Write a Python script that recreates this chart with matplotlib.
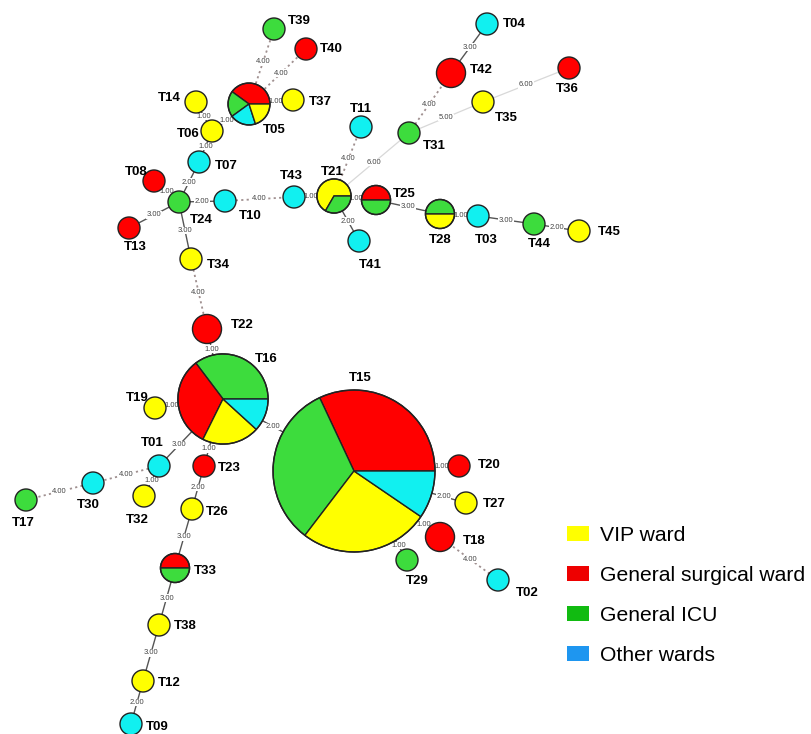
import matplotlib.pyplot as plt
from matplotlib.patches import Wedge, Circle, Patch
import numpy as np

plt.rcParams['font.family'] = ['Liberation Sans', 'DejaVu Sans']

# ward names and colours (V = VIP, S = surgical, I = ICU, O = other)
ward_names = {"V": "VIP ward", "S": "General surgical ward", "I": "General ICU", "O": "Other wards"}
node_colors = {"V": "#ffff00", "S": "#ff0000", "I": "#3ddc3d", "O": "#11f0f0"}
legend_colors = {"V": "#ffff00", "S": "#ee0000", "I": "#11bb11", "O": "#1e96f0"}

# isolates of each type per ward, slices in drawing order
composition = {
    "T15": [("S", 47), ("I", 48), ("V", 38), ("O", 14)],
    "T16": [("I", 12), ("S", 11), ("V", 7), ("O", 4)],
    "T05": [("S", 2), ("I", 1), ("O", 1), ("V", 1)],
    "T21": [("V", 2), ("I", 1)],
    "T25": [("S", 1), ("I", 1)],
    "T28": [("I", 1), ("V", 1)],
    "T33": [("S", 1), ("I", 1)],
    "T42": [("S", 2)], "T22": [("S", 2)], "T18": [("S", 2)],
    "T39": [("I", 1)], "T40": [("S", 1)], "T37": [("V", 1)], "T14": [("V", 1)],
    "T06": [("V", 1)], "T07": [("O", 1)], "T08": [("S", 1)], "T24": [("I", 1)],
    "T10": [("O", 1)], "T13": [("S", 1)], "T34": [("V", 1)], "T43": [("O", 1)],
    "T11": [("O", 1)], "T41": [("O", 1)], "T03": [("O", 1)], "T44": [("I", 1)],
    "T45": [("V", 1)], "T31": [("I", 1)], "T04": [("O", 1)], "T35": [("V", 1)],
    "T36": [("S", 1)], "T19": [("V", 1)], "T01": [("O", 1)], "T23": [("S", 1)],
    "T30": [("O", 1)], "T17": [("I", 1)], "T32": [("V", 1)], "T26": [("V", 1)],
    "T20": [("S", 1)], "T27": [("V", 1)], "T29": [("I", 1)], "T02": [("O", 1)],
    "T38": [("V", 1)], "T12": [("V", 1)], "T09": [("O", 1)],
}

# minimum spanning tree links and allelic distances
edges = [
    ("T05", "T39", 4), ("T05", "T40", 4), ("T05", "T37", 1), ("T05", "T06", 1),
    ("T14", "T06", 1), ("T06", "T07", 1), ("T07", "T24", 2), ("T08", "T24", 1),
    ("T13", "T24", 3), ("T24", "T10", 2), ("T24", "T34", 3), ("T10", "T43", 4),
    ("T43", "T21", 1), ("T21", "T11", 4), ("T21", "T31", 6), ("T21", "T41", 2),
    ("T21", "T25", 1), ("T25", "T28", 3), ("T28", "T03", 1), ("T03", "T44", 3),
    ("T44", "T45", 2), ("T31", "T42", 4), ("T42", "T04", 3), ("T31", "T35", 5),
    ("T35", "T36", 6), ("T34", "T22", 4), ("T22", "T16", 1), ("T16", "T19", 1),
    ("T16", "T01", 3), ("T16", "T23", 1), ("T16", "T15", 2), ("T01", "T30", 4),
    ("T01", "T32", 1), ("T30", "T17", 4), ("T23", "T26", 2), ("T26", "T33", 3),
    ("T33", "T38", 3), ("T38", "T12", 3), ("T12", "T09", 2), ("T15", "T20", 1),
    ("T15", "T27", 2), ("T15", "T18", 1), ("T15", "T29", 1), ("T18", "T02", 4),
]

# layout of the tree (pixel positions) and label offsets
pos = {
    "T39": (274, 29), "T40": (306, 49), "T37": (293, 100), "T05": (249, 104),
    "T14": (196, 102), "T06": (212, 131), "T07": (199, 162), "T08": (154, 181),
    "T24": (179, 202), "T10": (225, 201), "T13": (129, 228), "T34": (191, 259),
    "T43": (294, 197), "T21": (334, 196), "T11": (361, 127), "T41": (359, 241),
    "T25": (376, 200), "T28": (440, 214), "T03": (478, 216), "T44": (534, 224),
    "T45": (579, 231), "T31": (409, 133), "T42": (451, 73), "T04": (487, 24),
    "T35": (483, 102), "T36": (569, 68), "T22": (207, 329), "T16": (223, 399),
    "T19": (155, 408), "T01": (159, 466), "T23": (204, 466), "T30": (93, 483),
    "T17": (26, 500), "T32": (144, 496), "T26": (192, 509), "T15": (354, 471),
    "T20": (459, 466), "T27": (466, 503), "T18": (440, 537), "T29": (407, 560),
    "T02": (498, 580), "T33": (175, 568), "T38": (159, 625), "T12": (143, 681),
    "T09": (131, 724),
}
label_off = {
    "T39": (25, -8), "T40": (25, 0), "T37": (27, 2), "T05": (25, 26),
    "T14": (-27, -4), "T06": (-24, 3), "T07": (27, 4), "T08": (-18, -9),
    "T24": (22, 18), "T10": (25, 15), "T13": (6, 19), "T34": (27, 6),
    "T43": (-3, -21), "T21": (-2, -24), "T11": (0, -18), "T41": (11, 24),
    "T25": (28, -6), "T28": (0, 26), "T03": (8, 24), "T44": (5, 20),
    "T45": (30, 1), "T31": (25, 13), "T42": (30, -3), "T04": (27, 0),
    "T35": (23, 16), "T36": (-2, 21), "T22": (35, -4), "T16": (43, -40),
    "T19": (-18, -10), "T01": (-7, -23), "T23": (25, 2), "T30": (-5, 22),
    "T17": (-3, 23), "T32": (-7, 24), "T26": (25, 3), "T15": (6, -93),
    "T20": (30, -1), "T27": (28, 1), "T18": (34, 4), "T29": (10, 21),
    "T02": (29, 13), "T33": (30, 3), "T38": (26, 1), "T12": (26, 2),
    "T09": (26, 3),
}


def node_radius(n):
    return 11 * n ** 0.4


def edge_style(d):
    if d <= 3:
        return dict(color="#555555", lw=1.0, ls="-")
    if d == 4:
        return dict(color="#a09090", lw=1.3, ls=(0, (1.2, 1.8)))
    return dict(color="#d8d8d8", lw=0.9, ls="-")


W, H = 811, 734
fig = plt.figure(figsize=(W / 100, H / 100), dpi=100)
ax = fig.add_axes([0, 0, 1, 1])
ax.set_xlim(0, W)
ax.set_ylim(H, 0)
ax.axis("off")

totals = {k: sum(c for _, c in v) for k, v in composition.items()}

# links
for a, b, d in edges:
    (x1, y1), (x2, y2) = pos[a], pos[b]
    v = np.array([x2 - x1, y2 - y1], float)
    u = v / np.hypot(*v)
    p1 = np.array([x1, y1]) + u * node_radius(totals[a])
    p2 = np.array([x2, y2]) - u * node_radius(totals[b])
    ax.plot([x1, x2], [y1, y2], zorder=1, solid_capstyle="butt", **edge_style(d))
    m = (p1 + p2) / 2
    ax.text(m[0], m[1], "%.2f" % d, fontsize=5.5, color="#444444",
            ha="center", va="center", zorder=2,
            bbox=dict(facecolor="white", edgecolor="none", pad=0.2))

# nodes
for name, parts in composition.items():
    cx, cy = pos[name]
    r = node_radius(totals[name])
    if len(parts) == 1:
        ax.add_patch(Circle((cx, cy), r, facecolor=node_colors[parts[0][0]],
                            edgecolor="#222222", lw=1.0, zorder=3))
    else:
        a0 = 0.0
        for ward, c in parts:
            a1 = a0 + 360.0 * c / totals[name]
            # y axis is flipped, so visual counter-clockwise angles are negated
            ax.add_patch(Wedge((cx, cy), r, -a1, -a0, facecolor=node_colors[ward],
                               edgecolor="#222222", lw=1.0, zorder=3))
            a0 = a1
        ax.add_patch(Circle((cx, cy), r, facecolor="none", edgecolor="#222222",
                            lw=1.0, zorder=4))
    dx, dy = label_off[name]
    ax.text(cx + dx, cy + dy, name, fontsize=9.5, fontweight="bold",
            ha="center", va="center", zorder=5)

handles = [Patch(facecolor=legend_colors[k], edgecolor="none", label=ward_names[k])
           for k in ["V", "S", "I", "O"]]
ax.legend(handles=handles, loc="upper left", bbox_to_anchor=(567 / W, 1 - 526 / H),
          frameon=False, fontsize=15.2, handlelength=1.04, handleheight=0.71,
          handletextpad=0.52, labelspacing=0.99, borderaxespad=0, borderpad=0)

fig.savefig("out.png", dpi=100, facecolor="white")
